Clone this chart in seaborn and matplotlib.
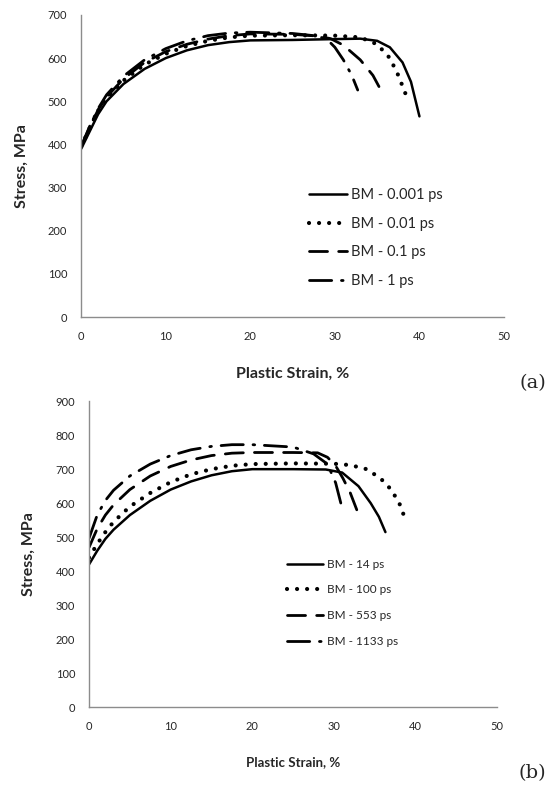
import pandas as pd
import matplotlib.pyplot as plt
import seaborn as sns

# Panel (a) - strain rates in ps
a_labels = ['BM - 0.001 ps', 'BM - 0.01 ps', 'BM - 0.1 ps', 'BM - 1 ps']
a_strain = [
    [0, 1, 2, 3, 5, 7.5, 10, 12.5, 15, 17.5, 20, 25, 30, 33, 35, 36.5, 38, 39, 40],
    [0, 1, 2, 3, 5, 7.5, 10, 12.5, 15, 17.5, 20, 25, 30, 33, 35, 36.5, 37.5, 38.5],
    [0, 1, 2, 3, 5, 7.5, 10, 12.5, 15, 17.5, 20, 25, 28, 29.5, 31, 33, 34.5, 35.6],
    [0, 1, 2, 3, 5, 7.5, 10, 12.5, 15, 17.5, 20, 25, 27.5, 29, 30, 31, 32, 32.7],
]
a_stress = [
    [390, 430, 470, 500, 540, 575, 600, 618, 630, 637, 641, 642, 644, 645, 640, 625, 590, 545, 465],
    [395, 438, 478, 507, 548, 585, 610, 628, 640, 648, 652, 653, 652, 648, 632, 600, 560, 510],
    [395, 440, 480, 510, 552, 590, 615, 632, 644, 652, 656, 655, 651, 645, 630, 596, 560, 520],
    [395, 442, 483, 515, 558, 596, 622, 640, 652, 658, 660, 657, 652, 645, 625, 596, 560, 526],
]

# Panel (b)
b_labels = ['BM - 14 ps', 'BM - 100 ps', 'BM - 553 ps', 'BM - 1133 ps']
b_strain = [
    [0, 1, 2, 3, 5, 7.5, 10, 12.5, 15, 17.5, 20, 25, 29, 31, 33, 34.5, 35.5, 36.3],
    [0, 1, 2, 3, 5, 7.5, 10, 12.5, 15, 17.5, 20, 25, 30, 32, 34, 35.7, 37, 38, 38.7],
    [0, 1, 2, 3, 5, 7.5, 10, 12.5, 15, 17.5, 20, 25, 28, 29.2, 30.2, 31.1, 32, 32.8],
    [0, 1, 2, 3, 5, 7.5, 10, 12.5, 15, 17.5, 20, 25, 27.5, 29.2, 30.2, 31],
]
b_stress = [
    [420, 460, 495, 522, 565, 607, 640, 664, 682, 694, 700, 700, 699, 690, 650, 600, 560, 515],
    [440, 480, 515, 545, 590, 630, 662, 685, 700, 710, 715, 717, 716, 712, 700, 673, 640, 600, 555],
    [470, 525, 565, 595, 640, 680, 708, 727, 740, 747, 749, 749, 748, 735, 710, 673, 630, 580],
    [497, 565, 608, 638, 680, 715, 740, 757, 767, 772, 772, 765, 745, 715, 660, 585],
]

# (linestyle, linewidth) for solid, dotted, dashed, dash-dot
styles = [('-', 1.8), ((0, (0.01, 2.4)), 3.0), ((0, (6.5, 4)), 2.0),
          ((0, (8, 3.5, 0.6, 3.5)), 2.0)]

sns.set_style('white')
plt.rcParams['font.family'] = ['Lato', 'DejaVu Sans']

fig = plt.figure(figsize=(5.6, 7.85), dpi=100)
ax_a = fig.add_axes([0.145, 0.596, 0.755, 0.385])
ax_b = fig.add_axes([0.159, 0.099, 0.729, 0.390])


def draw(ax, labels, strains, stresses, ymax, fsize, lab_pad, leg_kw):
    for lab, x, y, (ls, lw) in zip(labels, strains, stresses, styles):
        df = pd.DataFrame({'strain': x, 'stress': y})
        sns.lineplot(data=df, x='strain', y='stress', ax=ax, color='black',
                     linestyle=ls, linewidth=lw, label=lab, estimator=None,
                     sort=False, dash_capstyle='round')
    ax.set_xlim(0, 50)
    ax.set_ylim(0, ymax)
    ax.set_xticks(range(0, 51, 10))
    ax.set_yticks(range(0, ymax + 1, 100))
    ax.tick_params(length=0, labelsize=8, pad=10)
    for s in ['top', 'right']:
        ax.spines[s].set_visible(False)
    for s in ['left', 'bottom']:
        ax.spines[s].set_color('#8c8c8c')
        ax.spines[s].set_linewidth(1.0)
    ax.set_xlabel('Plastic Strain, %', fontweight='bold', fontsize=fsize[0],
                  labelpad=lab_pad)
    ax.set_ylabel('Stress, MPa', fontweight='bold', fontsize=fsize[1],
                  labelpad=14)
    ax.legend(frameon=False, loc='upper left', **leg_kw)


draw(ax_a, a_labels, a_strain, a_stress, 700, (11.5, 11.5), 18,
     dict(fontsize=10.5, handlelength=2.6, handletextpad=0.3, labelspacing=1.0,
          bbox_to_anchor=(0.508, 0.47)))
draw(ax_b, b_labels, b_strain, b_stress, 900, (9.5, 11.5), 17,
     dict(fontsize=8.5, handlelength=3.05, handletextpad=0.3, labelspacing=1.25,
          bbox_to_anchor=(0.46, 0.52)))

fig.text(0.975, 0.512, '(a)', family='DejaVu Serif', fontsize=14, ha='right',
         va='center')
fig.text(0.975, 0.015, '(b)', family='DejaVu Serif', fontsize=14, ha='right',
         va='center')

fig.savefig('out.png', dpi=100)
